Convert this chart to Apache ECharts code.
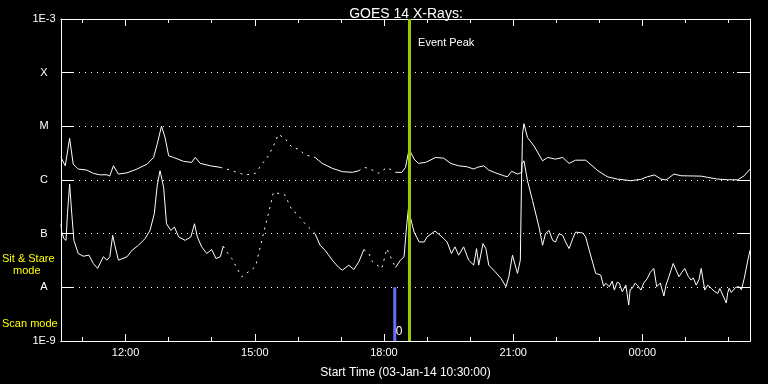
<!DOCTYPE html>
<html>
<head>
<meta charset="utf-8">
<script src="https://cdn.jsdelivr.net/npm/echarts@6/dist/echarts.min.js"></script>
<style>
html,body{margin:0;padding:0;background:#000;}
#chart{width:768px;height:384px;}
</style>
</head>
<body>
<div id="chart"></div>
<script>
const startMinuteOfDay = 10 * 60 + 30;
const endMinutes = 960;

const longMinutes = [0,6,12,17,24,36,45,54,64,68,73,80,92,106,120,129,134,140,145,150,157,171,182,187,194,208,222,231,245,257,271,280,289,296,303,313,322,331,340,354,364,378,392,406,415,422,429,443,454,466,475,480,485,492,498,508,522,533,543,554,566,575,580,589,596,606,617,622,628,636,642,643,645,650,659,671,678,689,699,708,717,731,748,761,775,794,808,817,827,836,843,854,864,878,892,901,915,929,943,952,960];
const longFlux = [2.63e-6,1.84e-6,6.0e-6,1.98e-6,1.60e-6,1.53e-6,1.33e-6,1.25e-6,1.25e-6,1.19e-6,1.84e-6,1.29e-6,1.36e-6,1.60e-6,1.98e-6,2.63e-6,4.64e-6,1.01e-5,6.18e-6,2.82e-6,2.63e-6,2.22e-6,2.13e-6,2.63e-6,2.04e-6,1.84e-6,1.72e-6,1.60e-6,1.39e-6,1.24e-6,1.33e-6,1.98e-6,2.82e-6,4.31e-6,7.11e-6,5.74e-6,4.03e-6,3.75e-6,2.94e-6,2.63e-6,2.04e-6,1.65e-6,1.43e-6,1.39e-6,1.49e-6,1.72e-6,1.65e-6,1.33e-6,1.72e-6,1.39e-6,1.39e-6,1.72e-6,3.75e-6,2.45e-6,2.04e-6,2.13e-6,2.63e-6,2.55e-6,2.04e-6,1.84e-6,1.76e-6,1.60e-6,1.72e-6,1.84e-6,1.53e-6,1.35e-6,1.20e-6,1.15e-6,1.45e-6,1.29e-6,1.39e-6,7.11e-6,1.12e-5,6.18e-6,4.31e-6,2.28e-6,2.63e-6,2.45e-6,2.63e-6,2.04e-6,2.34e-6,2.34e-6,1.49e-6,1.15e-6,1.04e-6,9.7e-7,1.03e-6,1.15e-6,1.24e-6,1.04e-6,1.00e-6,1.29e-6,1.20e-6,1.19e-6,1.18e-6,1.12e-6,1.04e-6,1.01e-6,1.01e-6,1.20e-6,1.60e-6];

const shortMinutes = [0,1,4,7,9,12,15,18,24,31,39,45,51,59,64,68,72,75,80,92,99,108,117,124,130,134,138,143,147,153,158,164,173,181,186,190,196,203,210,216,222,226,231,238,243,249,252,271,282,289,296,312,322,329,340,354,361,368,378,387,392,401,408,415,422,429,434,447,454,466,473,478,481,484,486,489,492,499,506,510,521,531,538,544,549,554,561,568,575,579,582,588,592,596,605,613,620,624,629,636,640,642,645,650,657,666,671,675,680,685,689,694,699,703,708,713,717,727,731,736,745,752,756,759,764,768,771,775,778,782,787,791,793,796,800,803,808,812,817,821,826,830,835,840,843,847,853,857,861,865,869,874,878,881,885,889,892,897,901,906,910,915,918,922,927,929,931,934,936,940,945,948,952,957,960];
const shortFlux = [1.53e-7,1.07e-7,8.1e-8,7.5e-8,2.35e-7,8.43e-7,2.35e-7,7.5e-8,4.27e-8,3.80e-8,3.97e-8,2.78e-8,2.25e-8,3.71e-8,3.21e-8,3.71e-8,9.3e-8,6.07e-8,3.21e-8,3.71e-8,4.91e-8,6.07e-8,8.08e-8,1.15e-7,2.35e-7,7.83e-7,1.49e-6,7.32e-7,1.53e-7,1.15e-7,1.33e-7,8.69e-8,7.5e-8,8.69e-8,1.53e-7,8.69e-8,5.68e-8,4.27e-8,5.06e-8,3.44e-8,3.71e-8,5.82e-8,4.58e-8,3.44e-8,2.59e-8,1.82e-8,1.58e-8,2.42e-8,1.0e-7,2.35e-7,5.92e-7,5.27e-7,2.70e-7,2.35e-7,1.53e-7,1.0e-7,6.07e-8,4.91e-8,3.21e-8,2.34e-8,2.09e-8,2.59e-8,2.15e-8,2.99e-8,5.06e-8,4.27e-8,2.99e-8,2.25e-8,5.27e-8,2.34e-8,3.21e-8,3.71e-8,1.15e-7,2.90e-7,2.90e-7,1.53e-7,1.07e-7,7.0e-8,7.0e-8,8.69e-8,1.12e-7,8.69e-8,7.0e-8,4.27e-8,5.68e-8,3.97e-8,5.68e-8,3.21e-8,2.59e-8,5.27e-8,2.59e-8,6.53e-8,5.27e-8,2.59e-8,1.95e-8,1.47e-8,1.03e-8,1.58e-8,3.97e-8,1.82e-8,3.21e-8,1.98e-6,2.28e-6,9.7e-7,4.14e-7,1.33e-7,6.07e-8,1.0e-7,1.15e-7,7.5e-8,7.0e-8,1.0e-7,9.3e-8,7.0e-8,5.27e-8,8.08e-8,1.07e-7,1.03e-7,8.69e-8,4.91e-8,1.82e-8,1.69e-8,1.05e-8,1.19e-8,1.03e-8,1.3e-8,8.9e-9,1.25e-8,1.19e-8,8.3e-9,1.1e-8,4.7e-9,9.0e-9,9.6e-9,1.2e-8,1.10e-8,8.9e-9,1.2e-8,1.47e-8,1.9e-8,2.25e-8,1.03e-8,1.2e-8,6.9e-9,1.1e-8,1.58e-8,2.78e-8,2.1e-8,1.58e-8,1.9e-8,2.25e-8,1.6e-8,1.36e-8,1.5e-8,1.10e-8,1.4e-8,2.25e-8,8.9e-9,1.1e-8,9.6e-9,8.5e-9,7.7e-9,9.5e-9,7.2e-9,5.1e-9,8.0e-9,9.6e-9,8.0e-9,7.7e-9,1.0e-8,1.03e-8,9.0e-9,1.47e-8,3.21e-8,4.91e-8];

const longSparse = [[222, 354], [415, 466]];
const shortSparse = [[226, 354], [422, 466]];

const yTickValues = [1e-9, 1e-8, 1e-7, 1e-6, 1e-5, 1e-4, 1e-3];
const yTickLabels = ['1E-9', 'A', 'B', 'C', 'M', 'X', '1E-3'];
const xLabelMinutes = [90, 270, 450, 630, 810];
const xMinorMinutes = [30, 90, 150, 210, 270, 330, 390, 450, 510, 570, 630, 690, 750, 810, 870, 930];

const eventPeakMinute = 485;
const eventPeakLabel = 'Event Peak';
const eventLabelFlux = 3.6e-4;
const scanMinute = 465;
const scanTop = 1e-8;
const scanBottom = 1e-9;
const scanCount = '0';
const scanLabelFlux = 1.5e-9;

const titleText = 'GOES 14 X-Rays:';
const xAxisTitle = 'Start Time (03-Jan-14 10:30:00)';
const sitStareLines = ['Sit & Stare', 'mode'];
const scanModeText = 'Scan mode';

const lg = v => Math.log10(v);
function splitSeries(ts, fs, gaps) {
  const solid = [], sparse = [];
  for (let i = 0; i < ts.length; i++) {
    const t = ts[i], v = lg(fs[i]);
    const inside = gaps.some(g => t > g[0] && t < g[1]);
    const inclusive = gaps.some(g => t >= g[0] && t <= g[1]);
    solid.push(inside ? [t, '-'] : [t, v]);
    sparse.push(inclusive ? [t, v] : [t, '-']);
  }
  return { solid, sparse };
}
const longS = splitSeries(longMinutes, longFlux, longSparse);
const shortS = splitSeries(shortMinutes, shortFlux, shortSparse);

function fmtTime(m) {
  const tot = (startMinuteOfDay + m) % 1440;
  const h = Math.floor(tot / 60), mm = tot % 60;
  return String(h).padStart(2, '0') + ':' + String(mm).padStart(2, '0');
}
const labelMap = {};
yTickValues.forEach((v, i) => { labelMap[Math.round(lg(v))] = yTickLabels[i]; });

const FONT = 'Liberation Sans';
const white = '#ffffff';
const chart = echarts.init(document.getElementById('chart'), null, { renderer: 'canvas' });

function xAxisDef(pos, ticks, len, labels) {
  return {
    type: 'value', position: pos, min: 0, max: endMinutes,
    axisLine: { show: true, onZero: false, lineStyle: { color: white, width: 1 } },
    axisTick: { show: true, inside: true, length: len, customValues: ticks, lineStyle: { color: white } },
    axisLabel: labels ? {
      show: true, customValues: xLabelMinutes, color: white, fontFamily: FONT, fontSize: 11, margin: 6,
      formatter: v => fmtTime(v)
    } : { show: false },
    splitLine: { show: false },
    name: labels ? xAxisTitle : '', nameLocation: 'middle', nameGap: 26,
    nameTextStyle: { color: white, fontFamily: FONT, fontSize: 12 }
  };
}
function yAxisDef(pos, labels) {
  return {
    type: 'value', position: pos, min: lg(yTickValues[0]), max: lg(yTickValues[yTickValues.length - 1]), interval: 1,
    axisLine: { show: true, onZero: false, lineStyle: { color: white, width: 1 } },
    axisTick: { show: true, inside: true, length: 13, lineStyle: { color: white } },
    axisLabel: labels ? {
      show: true, color: white, fontFamily: FONT, fontSize: 11, align: 'center', margin: 17,
      formatter: v => labelMap[Math.round(v)] || ''
    } : { show: false },
    splitLine: labels ? { show: true, lineStyle: { color: white, type: [1, 5], width: 1 } } : { show: false }
  };
}

const option = {
  backgroundColor: '#000000',
  animation: false,
  title: {
    text: titleText, left: 401, top: 2, textAlign: 'center',
    textStyle: { color: white, fontFamily: FONT, fontSize: 14, fontWeight: 'normal' }
  },
  grid: { left: 61, right: 18, top: 19, bottom: 41, show: false },
  xAxis: [
    xAxisDef('bottom', xLabelMinutes, 7, true),
    xAxisDef('bottom', xMinorMinutes, 4, false),
    xAxisDef('top', xLabelMinutes, 7, false),
    xAxisDef('top', xMinorMinutes, 4, false)
  ],
  yAxis: [yAxisDef('left', true), yAxisDef('right', false)],
  graphic: [
    { type: 'text', left: 2, top: 253, style: { text: sitStareLines[0], fill: '#ffff00', font: '11px "Liberation Sans"' } },
    { type: 'text', left: 13, top: 265, style: { text: sitStareLines[1], fill: '#ffff00', font: '11px "Liberation Sans"' } },
    { type: 'text', left: 2, top: 318, style: { text: scanModeText, fill: '#ffff00', font: '11px "Liberation Sans"' } }
  ],
  series: [
    {
      type: 'line', data: longS.solid, showSymbol: false, symbol: 'none', connectNulls: false,
      lineStyle: { color: white, width: 1 }, silent: true, z: 3,
      markLine: {
        symbol: 'none', silent: true, animation: false,
        label: { show: false },
        lineStyle: { color: '#99cc00', width: 3, type: 'solid' },
        data: [{ xAxis: eventPeakMinute }]
      },
      markPoint: {
        symbol: 'circle', symbolSize: 0, silent: true,
        label: { show: true, position: 'right', distance: 9, color: white, fontFamily: FONT, fontSize: 11, formatter: eventPeakLabel },
        data: [{ coord: [eventPeakMinute, lg(eventLabelFlux)] }]
      }
    },
    { type: 'line', data: longS.sparse, showSymbol: false, symbol: 'none', connectNulls: false,
      lineStyle: { color: white, width: 1, type: [2, 5] }, silent: true, z: 3 },
    { type: 'line', data: shortS.solid, showSymbol: false, symbol: 'none', connectNulls: false,
      lineStyle: { color: white, width: 1 }, silent: true, z: 3 },
    { type: 'line', data: shortS.sparse, showSymbol: false, symbol: 'none', connectNulls: false,
      lineStyle: { color: white, width: 1, type: [2, 5] }, silent: true, z: 3 },
    {
      type: 'line', data: [[scanMinute, lg(scanTop)], [scanMinute, lg(scanBottom)]],
      showSymbol: false, symbol: 'none', lineStyle: { color: '#6a6aff', width: 3 }, silent: true, z: 2,
      markPoint: {
        symbol: 'circle', symbolSize: 0, silent: true,
        label: { show: true, position: 'right', distance: 1, color: white, fontFamily: FONT, fontSize: 12, formatter: scanCount },
        data: [{ coord: [scanMinute, lg(scanLabelFlux)] }]
      }
    }
  ]
};
chart.setOption(option);
</script>
</body>
</html>
